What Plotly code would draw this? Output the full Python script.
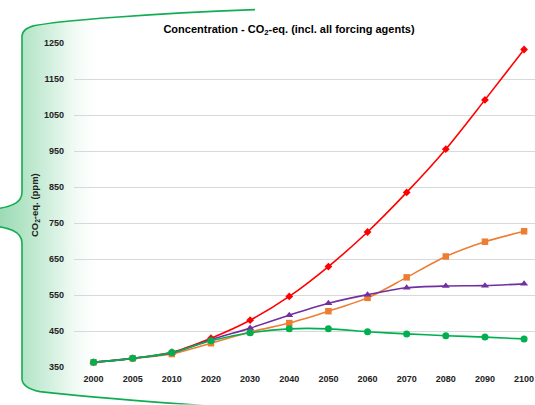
import base64
import plotly.graph_objects as go

years = ["2000", "2005", "2010", "2020", "2030", "2040", "2050", "2060", "2070", "2080", "2090", "2100"]
red_vals = [363, 374, 391, 430, 480, 546, 629, 725, 835, 955, 1092, 1232]
orange_vals = [363, 374, 386, 416, 447, 472, 505, 542, 599, 657, 698, 727]
purple_vals = [363, 374, 389, 426, 458, 494, 527, 551, 570, 575, 576, 581]
green_vals = [363, 374, 390, 423, 445, 456, 456, 448, 442, 437, 433, 428]

W, H = 535, 405
L, R, T, B = 74, 0, 42.5, 37.7
pw, ph = W - L - R, H - T - B

FONT = "Liberation Sans, Arial, sans-serif"

svg = f'''<svg xmlns="http://www.w3.org/2000/svg" width="{W}" height="{H}" viewBox="0 0 {W} {H}" preserveAspectRatio="none">
<defs><linearGradient id="g" gradientUnits="userSpaceOnUse" x1="0" y1="0" x2="105" y2="0">
<stop offset="0" stop-color="#9ddab6"/><stop offset="0.22" stop-color="#b3e4c6"/>
<stop offset="0.6" stop-color="#e2f5ea"/><stop offset="1" stop-color="#ffffff" stop-opacity="0"/></linearGradient></defs>
<path d="M 255,9 C 150,13 60,20 35,25 Q 22,28 22,36 L 22,192 C 22,204 8,207 -5,209 L -5,226 C 8,228 22,231 22,243 L 22,379 Q 22,388 40,392 C 90,398 150,402 215,407 L 260,407 L 260,9 Z" fill="url(#g)" stroke="none"/>
<path d="M 255,9 C 150,13 60,20 35,25 Q 22,28 22,36 L 22,192 C 22,204 8,207 -5,209 M -5,226 C 8,228 22,231 22,243 L 22,379 Q 22,388 40,392 C 90,398 150,402 215,407" fill="none" stroke="#12ad52" stroke-width="1.6"/>
</svg>'''
src = "data:image/svg+xml;base64," + base64.b64encode(svg.encode()).decode()

fig = go.Figure()

series = [
    (red_vals, "#ff0000", "diamond", 6),
    (orange_vals, "#ed7d31", "square", 6.5),
    (purple_vals, "#7030a0", "triangle-up", 7),
    (green_vals, "#00b050", "circle", 7),
]
for vals, col, sym, sz in series:
    fig.add_trace(go.Scatter(
        x=years, y=vals, mode="lines+markers",
        line=dict(color=col, width=1.6, shape="spline", smoothing=0.8),
        marker=dict(symbol=sym, size=sz, color=col),
        showlegend=False, cliponaxis=False, hoverinfo="skip",
    ))

fig.update_layout(
    width=W, height=H,
    margin=dict(l=L, r=R, t=T, b=B, autoexpand=False),
    paper_bgcolor="white", plot_bgcolor="rgba(0,0,0,0)",
    font=dict(family=FONT, size=9, color="#222222"),
    title=dict(text="<b>Concentration - CO<sub>2</sub>-eq. (incl. all forcing agents)</b>",
               x=289 / W, xanchor="center", y=1 - 29 / H, yanchor="middle",
               font=dict(family=FONT, size=11, color="#000000")),
    xaxis=dict(type="category", range=[-0.5, (W - 94) / 39.1], showgrid=False,
               zeroline=False, showline=False, ticks="", ticklabelstandoff=5,
               automargin=False,
               tickfont=dict(family=FONT, size=9, color="#222222", weight="bold")),
    yaxis=dict(range=[350, 1250], dtick=100, tick0=350, showgrid=True,
               gridcolor="#d9d9d9", gridwidth=1, zeroline=False, showline=False,
               ticks="", ticklabelstandoff=9, automargin=False,
               tickfont=dict(family=FONT, size=9, color="#222222", weight="bold")),
    images=[dict(source=src, xref="paper", yref="paper",
                 x=-L / pw, y=1 + T / ph, sizex=W / pw, sizey=H / ph,
                 xanchor="left", yanchor="top", sizing="stretch", layer="below")],
    annotations=[dict(text="<b>CO<sub>2</sub>-eq. (ppm)</b>", textangle=-90,
                      xref="paper", yref="paper", x=(35 - L) / pw, y=(H - B - 205) / ph,
                      xanchor="center", yanchor="middle", showarrow=False,
                      font=dict(family=FONT, size=9.5, color="#222222"))],
)

fig.write_html("out.html", config={"displayModeBar": False},
               post_script="document.body.style.margin='0';document.body.style.overflow='hidden';")
